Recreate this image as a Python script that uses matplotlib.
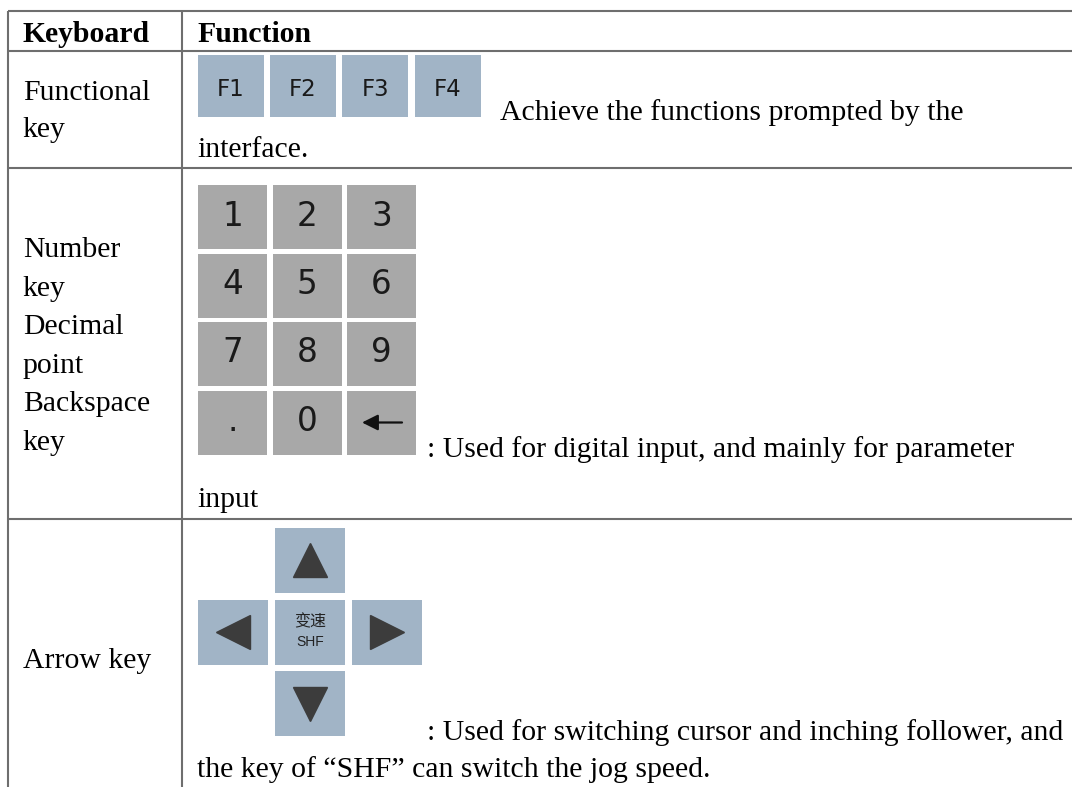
#!/usr/bin/env python3
# coding: utf-8

import matplotlib
matplotlib.use('Agg')
import matplotlib.pyplot as plt
from matplotlib.patches import Rectangle

# table content
header = ['Keyboard', 'Function']
left_labels = [
    ['Functional', 'key'],
    ['Number', 'key', 'Decimal', 'point', 'Backspace', 'key'],
    ['Arrow key'],
]
func_keys = ['F1', 'F2', 'F3', 'F4']
num_keys = ['1', '2', '3', '4', '5', '6', '7', '8', '9', '.', '0', '']
arrow_keys = ['^', '<', '>', 'v']
center_key = ['变速', 'SHF']
row1_text = ['Achieve the functions prompted by the', 'interface.']
row2_text = [': Used for digital input, and mainly for parameter', 'input']
row3_text = [': Used for switching cursor and inching follower, and',
             'the key of \u201cSHF\u201d can switch the jog speed.']

W, H = 1072, 787
SERIF = 'Liberation Serif'
FS = 21.4
LINE = '#6e6e6e'
BLUE = '#a1b4c6'
GREY = '#a8a8a8'
DARK = '#3c3c3c'


def key(ax, x, y, w, h, color):
    ax.add_patch(Rectangle((x, y), w, h, facecolor=color, edgecolor='none'))


def main():
    fig = plt.figure(figsize=(W / 100, H / 100), dpi=100)
    ax = fig.add_axes([0, 0, 1, 1])
    ax.set_xlim(0, W)
    ax.set_ylim(H, 0)
    ax.axis('off')

    # grid lines
    x_left, x_sep = 7.5, 181.5
    for y in [10.7, 50.7, 167.5, 519]:
        ax.plot([x_left, W], [y, y], color=LINE, lw=1.5, solid_capstyle='butt')
    for x in [x_left, x_sep]:
        ax.plot([x, x], [10.7, H], color=LINE, lw=1.5, solid_capstyle='butt')

    # header
    ax.text(22.7, 41.7, header[0], fontsize=FS, family=SERIF, weight='bold', va='baseline')
    ax.text(197.5, 41.7, header[1], fontsize=FS, family=SERIF, weight='bold', va='baseline')

    # left column
    starts = [100, 257, 668]
    for lines, y0 in zip(left_labels, starts):
        step = 38.6 if len(lines) > 2 else 37
        for i, s in enumerate(lines):
            ax.text(22.7, y0 + i * step, s, fontsize=FS, family=SERIF, va='baseline')

    # row 1: function keys
    for i, lab in enumerate(func_keys):
        x = 197.7 + i * 72.3
        key(ax, x, 55, 66, 62, BLUE)
        ax.text(x + 33, 89, lab, fontsize=16.5, family='DejaVu Sans',
                ha='center', va='center', color='#1a1a1a')
    ax.text(500, 120, row1_text[0], fontsize=FS, family=SERIF, va='baseline')
    ax.text(197, 157, row1_text[1], fontsize=FS, family=SERIF, va='baseline')

    # row 2: number pad
    for i, lab in enumerate(num_keys):
        r, c = divmod(i, 3)
        x = 198 + c * 74.5
        y = 185 + r * 68.5
        key(ax, x, y, 69, 64, GREY)
        if lab:
            ax.text(x + 34.5, y + 31, lab, fontsize=23.5, family='DejaVu Sans',
                    ha='center', va='center', color='#1a1a1a')
        else:
            ax.annotate('', xy=(x + 15, y + 32), xytext=(x + 55, y + 32),
                        arrowprops=dict(arrowstyle='-|>', color='#111111',
                                        lw=1.6, mutation_scale=24,
                                        shrinkA=0, shrinkB=0))
    ax.text(427, 457, row2_text[0], fontsize=FS, family=SERIF, va='baseline')
    ax.text(197, 507, row2_text[1], fontsize=FS, family=SERIF, va='baseline')

    # row 3: arrow keys
    centers = [(310, 560), (233, 632), (387, 632), (310, 703.5)]
    for m, (cx, cy) in zip(arrow_keys, centers):
        key(ax, cx - 35, cy - 32.5, 70, 65, BLUE)
        ax.plot(cx, cy, marker=m, markersize=24, color=DARK, linestyle='none')
    key(ax, 275, 600, 70, 65, BLUE)
    ax.text(310, 622, center_key[0], fontsize=11.5, family='Noto Sans CJK SC',
            ha='center', va='center', color='#222222')
    ax.text(310, 642, center_key[1], fontsize=10, family='Liberation Sans',
            ha='center', va='center', color='#222222')
    ax.text(427, 740, row3_text[0], fontsize=FS, family=SERIF, va='baseline')
    ax.text(197, 777, row3_text[1], fontsize=FS, family=SERIF, va='baseline')

    fig.savefig('out.png', dpi=100, facecolor='white')


if __name__ == '__main__':
    main()
